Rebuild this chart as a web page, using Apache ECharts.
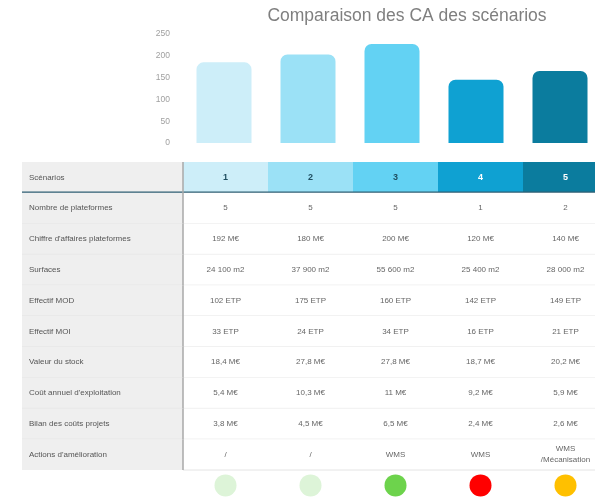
<!DOCTYPE html>
<html>
<head>
<meta charset="utf-8">
<script src="https://cdn.jsdelivr.net/npm/echarts@6/dist/echarts.min.js"></script>
<style>
  html, body { margin: 0; padding: 0; background: #fff; }
  #main { width: 595px; height: 502px; }
</style>
</head>
<body>
<div id="main"></div>
<script>
// données du graphique
const scenarios = ['1', '2', '3', '4', '5'];
const caValues = [185, 203, 227, 145, 165];
const barColors = ['#cdeef9', '#9be1f6', '#63d2f3', '#0fa1d2', '#0b7c9e'];
const headerTextColors = ['#1f4e60', '#1f4e60', '#1f4e60', '#ffffff', '#ffffff'];

const rowLabels = [
  'Scénarios',
  'Nombre de plateformes',
  "Chiffre d'affaires plateformes",
  'Surfaces',
  'Effectif MOD',
  'Effectif MOI',
  'Valeur du stock',
  "Coût annuel d'exploitation",
  'Bilan des coûts projets',
  "Actions d'amélioration"
];
const nbPlateformes = ['5', '5', '5', '1', '2'];
const chiffreAffaires = ['192 M€', '180 M€', '200 M€', '120 M€', '140 M€'];
const surfaces = ['24 100 m2', '37 900 m2', '55 600 m2', '25 400 m2', '28 000 m2'];
const effectifMOD = ['102 ETP', '175 ETP', '160 ETP', '142 ETP', '149 ETP'];
const effectifMOI = ['33 ETP', '24 ETP', '34 ETP', '16 ETP', '21 ETP'];
const valeurStock = ['18,4 M€', '27,8 M€', '27,8 M€', '18,7 M€', '20,2 M€'];
const coutExploitation = ['5,4 M€', '10,3 M€', '11 M€', '9,2 M€', '5,9 M€'];
const bilanCouts = ['3,8 M€', '4,5 M€', '6,5 M€', '2,4 M€', '2,6 M€'];
const actions = ['/', '/', 'WMS', 'WMS', 'WMS\n/Mécanisation'];
const statusColors = ['#ddf4d8', '#ddf4d8', '#6dd34c', '#ff0000', '#ffc000'];

const tableRows = [scenarios, nbPlateformes, chiffreAffaires, surfaces, effectifMOD,
  effectifMOI, valeurStock, coutExploitation, bilanCouts, actions];

const FONT = 'Liberation Sans';
const chart = echarts.init(document.getElementById('main'));

// cellules du tableau
const cells = [];
tableRows.forEach((row, r) => {
  row.forEach((txt, c) => cells.push([c, r, txt]));
});
const labelCells = rowLabels.map((txt, r) => [0, r, txt]);

function dataCell(params, api) {
  const c = api.value(0), r = api.value(1);
  const p = api.coord([c, r]);
  const s = api.size([1, 1]);
  const x = p[0] - s[0] / 2, y = p[1] - s[1] / 2;
  const txt = cells[params.dataIndex][2];
  const header = r === 0;
  return {
    type: 'group',
    children: [
      { type: 'rect', shape: { x: x, y: y, width: s[0], height: s[1] },
        style: { fill: header ? barColors[c] : '#ffffff' } },
      { type: 'line', shape: { x1: x, y1: y + s[1], x2: x + s[0], y2: y + s[1] },
        style: { stroke: header ? '#2e5e73' : '#e4e4e4', lineWidth: header ? 2.5 : 1 } },
      { type: 'text', x: p[0], y: p[1],
        style: { text: txt, align: 'center', verticalAlign: 'middle',
          fontFamily: FONT, fontSize: header ? 9 : 8,
          fontWeight: header ? 'bold' : 'normal',
          lineHeight: 11,
          fill: header ? headerTextColors[c] : '#666666' } }
    ]
  };
}

function labelCell(params, api) {
  const r = api.value(1);
  const p = api.coord([0, r]);
  const s = api.size([1, 1]);
  const x = p[0] - s[0] / 2, y = p[1] - s[1] / 2;
  const header = r === 0;
  return {
    type: 'group',
    children: [
      { type: 'rect', shape: { x: x, y: y, width: s[0], height: s[1] },
        style: { fill: '#efefef' } },
      { type: 'line', shape: { x1: x, y1: y + s[1], x2: x + s[0], y2: y + s[1] },
        style: { stroke: header ? '#2e5e73' : (r === rowLabels.length - 1 ? 'transparent' : '#e2e2e2'),
          lineWidth: header ? 2.5 : 1 } },
      { type: 'line', shape: { x1: x + s[0], y1: y, x2: x + s[0], y2: y + s[1] },
        style: { stroke: '#a8a8a8', lineWidth: 1.5 } },
      { type: 'text', x: x + 7, y: p[1],
        style: { text: labelCells[params.dataIndex][2], align: 'left', verticalAlign: 'middle',
          fontFamily: FONT, fontSize: 8, fill: '#555555' } }
    ]
  };
}

const tableYAxis = rowLabels.concat(['statut']);

const option = {
  backgroundColor: '#ffffff',
  animation: false,
  title: {
    text: 'Comparaison des CA des scénarios',
    left: 402,
    top: 2,
    textAlign: 'center',
    textStyle: { fontFamily: FONT, fontSize: 17.5, fontWeight: 'normal', color: '#7f7f7f' }
  },
  grid: [
    { left: 182, top: 34, width: 420, height: 109, outerBoundsMode: 'none' },
    { left: 183, top: 162, width: 425, height: 338.8, outerBoundsMode: 'none' },
    { left: 22, top: 162, width: 161, height: 338.8, outerBoundsMode: 'none' }
  ],
  xAxis: [
    { type: 'category', gridIndex: 0, data: scenarios,
      axisLine: { show: false }, axisTick: { show: false }, axisLabel: { show: false } },
    { type: 'category', gridIndex: 1, data: scenarios, show: false },
    { type: 'category', gridIndex: 2, data: ['libellé'], show: false }
  ],
  yAxis: [
    { type: 'value', gridIndex: 0, min: 0, max: 250, interval: 50,
      splitLine: { show: false }, axisLine: { show: false }, axisTick: { show: false },
      axisLabel: { margin: 12, color: '#a0a0a0', fontFamily: FONT, fontSize: 8.5 } },
    { type: 'category', gridIndex: 1, data: tableYAxis, inverse: true, show: false },
    { type: 'category', gridIndex: 2, data: tableYAxis, inverse: true, show: false }
  ],
  series: [
    {
      name: 'CA',
      type: 'bar',
      xAxisIndex: 0, yAxisIndex: 0,
      barWidth: 55,
      data: caValues.map((v, i) => ({
        value: v,
        itemStyle: { color: barColors[i], borderRadius: [7, 7, 0, 0] }
      }))
    },
    {
      type: 'custom',
      xAxisIndex: 1, yAxisIndex: 1,
      renderItem: dataCell,
      data: cells.map(d => [d[0], d[1]])
    },
    {
      type: 'custom',
      xAxisIndex: 2, yAxisIndex: 2,
      renderItem: labelCell,
      data: labelCells.map(d => [d[0], d[1]])
    },
    {
      type: 'scatter',
      xAxisIndex: 1, yAxisIndex: 1,
      symbolSize: 22,
      data: statusColors.map((col, i) => ({
        value: [i, tableYAxis.length - 1],
        itemStyle: { color: col, opacity: 1 }
      }))
    }
  ]
};

chart.setOption(option);
</script>
</body>
</html>
